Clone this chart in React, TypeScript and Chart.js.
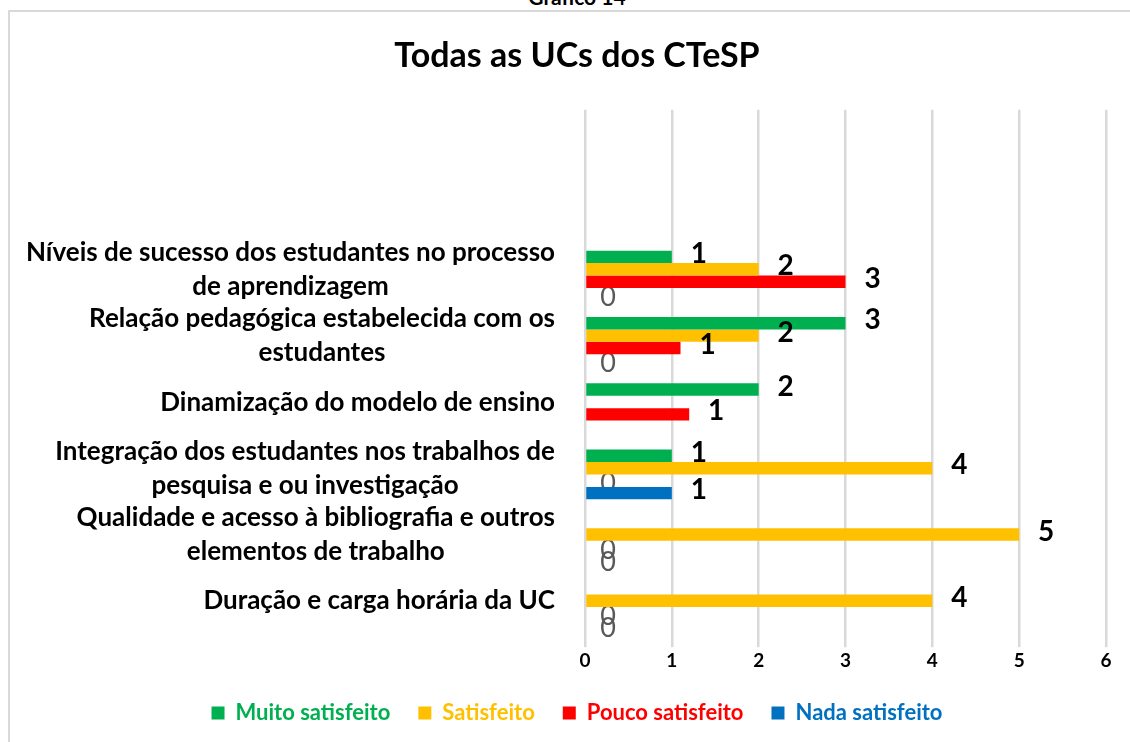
import React, { useEffect, useRef } from "react";
import { Chart, registerables } from "chart.js";

Chart.register(...registerables);

const FONT = "Lato";

const caption = "Gráfico 14";
const chartTitle = "Todas as UCs dos CTeSP";

// top to bottom (two empty slots above the first category)
const categories: string[][] = [
  [""],
  [""],
  ["Níveis de sucesso dos estudantes no processo", "de aprendizagem"],
  ["Relação pedagógica estabelecida com os", "estudantes"],
  ["Dinamização do modelo de ensino"],
  ["Integração dos estudantes nos trabalhos de", "pesquisa e ou investigação"],
  ["Qualidade e acesso à bibliografia e outros", "elementos de trabalho"],
  ["Duração e carga horária da UC"],
];

const seriesNames = ["Muito satisfeito", "Satisfeito", "Pouco satisfeito", "Nada satisfeito"];
const seriesColors = ["#00B050", "#FFC000", "#FF0000", "#0070C0"];

const muitoSatisfeito = [null, null, 1, 3, 2, 1, null, null];
const satisfeito = [null, null, 2, 2, null, 4, 5, 4];
const poucoSatisfeito = [null, null, 3, 1.1, 1.2, 0, 0, 0];
const nadaSatisfeito = [null, null, 0, 0, null, 1, 0, 0];

const xMin = 0;
const xMax = 6;
const xStep = 1;

function drawValueLabels(chart: any, zeros: boolean) {
  const ctx = chart.ctx;
  chart.data.datasets.forEach((ds: any, di: number) => {
    const meta = chart.getDatasetMeta(di);
    meta.data.forEach((bar: any, i: number) => {
      const v = ds.data[i];
      if (v === null || v === undefined) return;
      if (zeros !== (v === 0)) return;
      const p = bar.getProps(["x", "y", "base"], true);
      ctx.save();
      ctx.textAlign = "center";
      ctx.textBaseline = "middle";
      if (v === 0) {
        ctx.font = `400 27px ${FONT}`;
        ctx.fillStyle = "#595959";
        ctx.fillText("0", p.base + 23, p.y + 3);
      } else {
        ctx.font = `700 28px ${FONT}`;
        ctx.fillStyle = "#000000";
        ctx.fillText(String(Math.round(v)), p.x + 27, p.y - 3);
      }
      ctx.restore();
    });
  });
}

const valueLabelsPlugin = {
  id: "valueLabels",
  beforeDatasetsDraw(chart: any) {
    drawValueLabels(chart, true);
  },
  afterDatasetsDraw(chart: any) {
    drawValueLabels(chart, false);
  },
};

const categoryLabelsPlugin = {
  id: "categoryLabels",
  afterDraw(chart: any) {
    const ctx = chart.ctx;
    const yScale = chart.scales.y;
    const right = 555;
    const lineH = 34;
    ctx.save();
    ctx.font = `700 26px ${FONT}`;
    ctx.fillStyle = "#000000";
    ctx.textAlign = "center";
    ctx.textBaseline = "middle";
    categories.forEach((lines, i) => {
      if (!lines[0]) return;
      const yc = yScale.getPixelForValue(i) - 6;
      const w = Math.max(...lines.map((l) => ctx.measureText(l).width));
      const cx = right - w / 2;
      const y0 = yc - ((lines.length - 1) * lineH) / 2;
      lines.forEach((l, k) => ctx.fillText(l, cx, y0 + k * lineH));
    });
    ctx.restore();
  },
};

export default function App() {
  const canvasRef = useRef<HTMLCanvasElement | null>(null);

  useEffect(() => {
    if (!canvasRef.current) return;
    const seriesData = [muitoSatisfeito, satisfeito, poucoSatisfeito, nadaSatisfeito];
    const chart = new Chart(canvasRef.current, {
      type: "bar",
      data: {
        labels: categories.map((c) => c.join(" ")),
        datasets: seriesNames.map((name, k) => ({
          label: name,
          data: seriesData[k] as any,
          backgroundColor: seriesColors[k],
          borderWidth: 0,
          categoryPercentage: 0.75,
          barPercentage: 1,
        })),
      },
      options: {
        indexAxis: "y",
        animation: false,
        responsive: false,
        layout: { padding: { left: 48, right: 24, top: 0, bottom: 8 } },
        scales: {
          y: {
            display: true,
            ticks: { display: false },
            grid: { display: false },
            border: { display: false },
            afterFit: (scale: any) => {
              scale.width = 537;
            },
          },
          x: {
            min: xMin,
            max: xMax,
            ticks: {
              stepSize: xStep,
              color: "#000000",
              font: { family: FONT, weight: "bold", size: 19 },
              padding: 2,
            },
            grid: { color: "#d9d9d9", lineWidth: 2.5, drawTicks: true, tickLength: 7, tickColor: "#d9d9d9" },
            border: { display: false },
          },
        },
        plugins: {
          title: {
            display: true,
            text: chartTitle,
            color: "#000000",
            font: { family: FONT, weight: "bold", size: 34 },
            padding: { top: 36, bottom: 33 },
          },
          legend: {
            position: "bottom",
            labels: {
              boxWidth: 13,
              boxHeight: 13,
              padding: 28,
              font: { family: FONT, weight: "bold", size: 22 },
              generateLabels: (ch: any) =>
                ch.data.datasets.map((ds: any, i: number) => ({
                  text: ds.label,
                  fillStyle: seriesColors[i],
                  strokeStyle: seriesColors[i],
                  lineWidth: 0,
                  fontColor: seriesColors[i],
                  datasetIndex: i,
                  hidden: false,
                })),
            },
          },
          tooltip: { enabled: false },
        },
      },
      plugins: [valueLabelsPlugin, categoryLabelsPlugin],
    });
    return () => chart.destroy();
  }, []);

  return (
    <div style={{ position: "fixed", left: 0, top: 0, width: 1130, height: 742, overflow: "hidden", background: "#fff" }}>
      <div
        style={{
          position: "absolute",
          left: 0,
          top: -13,
          width: 1154,
          textAlign: "center",
          fontFamily: FONT,
          fontWeight: 700,
          fontSize: 21,
          lineHeight: "20px",
          color: "#000",
        }}
      >
        {caption}
      </div>
      <div
        style={{
          position: "absolute",
          left: 8,
          top: 10,
          width: 1200,
          height: 800,
          borderLeft: "2px solid #d9d9d9",
          borderTop: "2px solid #d9d9d9",
        }}
      />
      <canvas ref={canvasRef} width={1130} height={742} style={{ position: "absolute", left: 0, top: 0 }} />
    </div>
  );
}
